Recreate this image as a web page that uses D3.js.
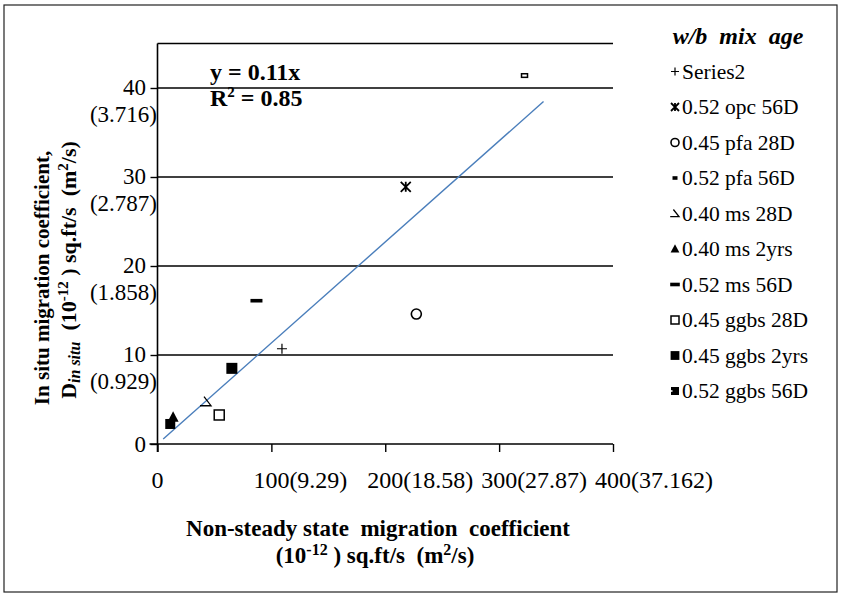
<!DOCTYPE html>
<html><head><meta charset="utf-8">
<script src="https://cdn.jsdelivr.net/npm/d3@7"></script>
<style>
html,body{margin:0;padding:0;background:#fff;}
svg text{font-family:"Liberation Serif","Times New Roman",serif;fill:#000;}
</style></head>
<body><svg id="c" width="841" height="596"></svg>
<script>
// ---- data ----
const seriesNames = ["Series2","0.52 opc 56D","0.45 pfa 28D","0.52 pfa 56D","0.40 ms 28D","0.40 ms 2yrs","0.52 ms 56D","0.45 ggbs 28D","0.45 ggbs 2yrs","0.52 ggbs 56D"];
const seriesMarkers = ["plus","star","circle","smallrect","opentri","tri","dash","opensq","sq","sq2"];
const xValues = [109.3, 218, 227.3, 322.3, 42.6, 13.7, 86.9, 54.2, 65.3, 11.2];
const yValues = [10.7, 28.9, 14.6, 41.4, 4.75, 3.0, 16.1, 3.26, 8.5, 2.25];
const xTicks = [0, 100, 200, 300, 400];
const xTickSub = ["", "(9.29)", "(18.58)", "(27.87)", "(37.162)"];
const yTicks = [0, 10, 20, 30, 40];
const yTickSub = ["", "(0.929)", "(1.858)", "(2.787)", "(3.716)"];
const trendSlope = 0.1135;
const trendRange = [5, 339];
const eqText = ["y = 0.11x", "R² = 0.85"];

const svg = d3.select("#c");
const x = d3.scaleLinear().domain([0, 400]).range([157.5, 613]);
const y = d3.scaleLinear().domain([0, 45]).range([444, 43.5]);

// outer border
svg.append("rect").attr("x",4).attr("y",5).attr("width",833).attr("height",587)
  .attr("fill","none").attr("stroke","#222").attr("stroke-width",1.2);

// gridlines
svg.append("g").selectAll("line").data(yTicks.filter(d=>d>0).concat([45])).join("line")
  .attr("x1",x(0)).attr("x2",x(400)).attr("y1",d=>y(d)).attr("y2",d=>y(d))
  .attr("stroke","#000").attr("stroke-width",1.4);

// axes
const xAxis = d3.axisBottom(x).tickValues(xTicks).tickSize(8).tickFormat("");
const gx = svg.append("g").attr("transform",`translate(0,${y(0)})`).call(xAxis);
gx.select(".domain").attr("d",`M${x(0)-8},0H${x(400)}`).attr("stroke","#000").attr("stroke-width",1.6);
gx.selectAll(".tick line").attr("stroke","#000").attr("stroke-width",1.4);

const yAxis = d3.axisLeft(y).tickValues(yTicks).tickSize(7).tickFormat("");
const gy = svg.append("g").attr("transform",`translate(${x(0)},0)`).call(yAxis);
gy.select(".domain").attr("d",`M0,${y(45)}V${y(0)+8}`).attr("stroke","#000").attr("stroke-width",1.6);
gy.selectAll(".tick line").attr("stroke","#000").attr("stroke-width",1.4);

// x tick labels: number centred at tick, sub-label appended
const tfs = 24;
xTicks.forEach((v,i)=>{
  const t = svg.append("text").attr("x",x(v)).attr("y",488).attr("text-anchor","middle")
    .style("font-size",tfs+"px").text(v);
  if (xTickSub[i]) {
    const w = t.node().getComputedTextLength();
    svg.append("text").attr("x",x(v)+w/2).attr("y",488).style("font-size",tfs+"px").text(xTickSub[i]);
  }
});
// y tick labels
const yfs = 23;
yTicks.forEach((v,i)=>{
  if (yTickSub[i]) {
    svg.append("text").attr("x",146).attr("y",y(v)+7).attr("text-anchor","end")
      .style("font-size",yfs+"px").text(v);
    svg.append("text").attr("x",157).attr("y",y(v)+34).attr("text-anchor","end")
      .style("font-size",yfs+"px").text(yTickSub[i]);
  } else {
    svg.append("text").attr("x",146).attr("y",y(v)+8).attr("text-anchor","end")
      .style("font-size",yfs+"px").text(v);
  }
});

// trendline
svg.append("line").attr("x1",x(trendRange[0])).attr("y1",y(trendSlope*trendRange[0]))
  .attr("x2",x(trendRange[1])).attr("y2",y(trendSlope*trendRange[1]))
  .attr("stroke","#4a7ebb").attr("stroke-width",1.4);

// markers
function marker(g, type, legend){
  const k = legend ? 0.8 : 1;
  switch(type){
    case "plus":
      g.append("path").attr("d",`M${-5*k},0H${5*k}M0,${-5*k}V${5*k}`).attr("stroke","#000").attr("stroke-width",1.2); break;
    case "star":
      g.append("path").attr("d",`M${-5*k},${-5*k}L${5*k},${5*k}M${-5*k},${5*k}L${5*k},${-5*k}M0,${-5*k}V${5*k}`)
        .attr("stroke","#000").attr("stroke-width",1.8); break;
    case "circle":
      g.append("circle").attr("r",5*k).attr("fill","#fff").attr("stroke","#000").attr("stroke-width",1.6); break;
    case "smallrect":
      if (legend) g.append("rect").attr("x",-2.5).attr("y",-1.8).attr("width",5).attr("height",3.6).attr("fill","#000");
      else g.append("rect").attr("x",-3).attr("y",-1.8).attr("width",6).attr("height",3.6).attr("fill","#fff").attr("stroke","#000").attr("stroke-width",1.5);
      break;
    case "opentri":
      g.append("path").attr("d",`M${-6*k},${4*k}L${5*k},${4*k}L${-2*k},${-5*k}`).attr("fill","none").attr("stroke","#000").attr("stroke-width",1.3); break;
    case "tri":
      g.append("path").attr("d",`M${-5.5*k},${4.5*k}L${5.5*k},${4.5*k}L0,${-6*k}Z`).attr("fill","#000"); break;
    case "dash":
      g.append("rect").attr("x",-6*k).attr("y",-1.8).attr("width",12*k).attr("height",3.6).attr("fill","#000"); break;
    case "opensq":
      g.append("rect").attr("x",-5*k).attr("y",-5*k).attr("width",10*k).attr("height",10*k).attr("fill","#fff").attr("stroke","#000").attr("stroke-width",1.5); break;
    case "sq":
      g.append("rect").attr("x",-5.5*k).attr("y",-5.5*k).attr("width",11*k).attr("height",11*k).attr("fill","#000"); break;
    case "sq2":
      g.append("rect").attr("x",-5*k).attr("y",-5*k).attr("width",10*k).attr("height",10*k).attr("fill","#000");
      if (legend) g.append("rect").attr("x",-5*k).attr("y",-0.8).attr("width",1.5).attr("height",1.6).attr("fill","#fff");
      break;
  }
}
const pts = svg.append("g");
seriesNames.forEach((n,i)=>{
  const g = pts.append("g").attr("transform",`translate(${x(xValues[i])},${y(yValues[i])})`);
  marker(g, seriesMarkers[i], false);
});

// equation
svg.append("text").attr("x",210).attr("y",80).style("font-size","24px").style("font-weight","bold").text(eqText[0]);
svg.append("text").attr("x",210).attr("y",106).style("font-size","24px").style("font-weight","bold")
  .html('R<tspan dy="-9" font-size="15">2</tspan><tspan dy="9"> = 0.85</tspan>');

// legend
svg.append("text").attr("x",738).attr("y",44).attr("text-anchor","middle")
  .style("font-size","24px").style("font-weight","bold").style("font-style","italic")
  .attr("xml:space","preserve").text("w/b  mix  age");
seriesNames.forEach((n,i)=>{
  const cy = 71.5 + 35.5*i;
  const g = svg.append("g").attr("transform",`translate(675,${cy})`);
  marker(g, seriesMarkers[i], true);
  svg.append("text").attr("x",682).attr("y",cy+7).style("font-size","21.5px").text(n);
});

// x title
svg.append("text").attr("x",378).attr("y",536).attr("text-anchor","middle")
  .style("font-size","23px").style("font-weight","bold").attr("xml:space","preserve")
  .text("Non-steady state  migration  coefficient");
svg.append("text").attr("x",375).attr("y",563).attr("text-anchor","middle")
  .style("font-size","23px").style("font-weight","bold").attr("xml:space","preserve")
  .html('(10<tspan dy="-8" font-size="16">-12</tspan><tspan dy="8"> ) sq.ft/s  (m</tspan><tspan dy="-8" font-size="16">2</tspan><tspan dy="8">/s)</tspan>');

// y title
svg.append("text").attr("transform","translate(49,278) rotate(-90)").attr("text-anchor","middle")
  .style("font-size","21px").style("font-weight","bold")
  .text("In situ migration coefficient,");
svg.append("text").attr("transform","translate(76,270) rotate(-90)").attr("text-anchor","middle")
  .style("font-size","22px").style("font-weight","bold").attr("xml:space","preserve")
  .html('D<tspan dy="4" font-size="16" font-style="italic">in situ</tspan><tspan dy="-4">  (10</tspan><tspan dy="-8" font-size="15">-12</tspan><tspan dy="8"> ) sq.ft/s  (m</tspan><tspan dy="-8" font-size="15">2</tspan><tspan dy="8">/s)</tspan>');
</script></body></html>
